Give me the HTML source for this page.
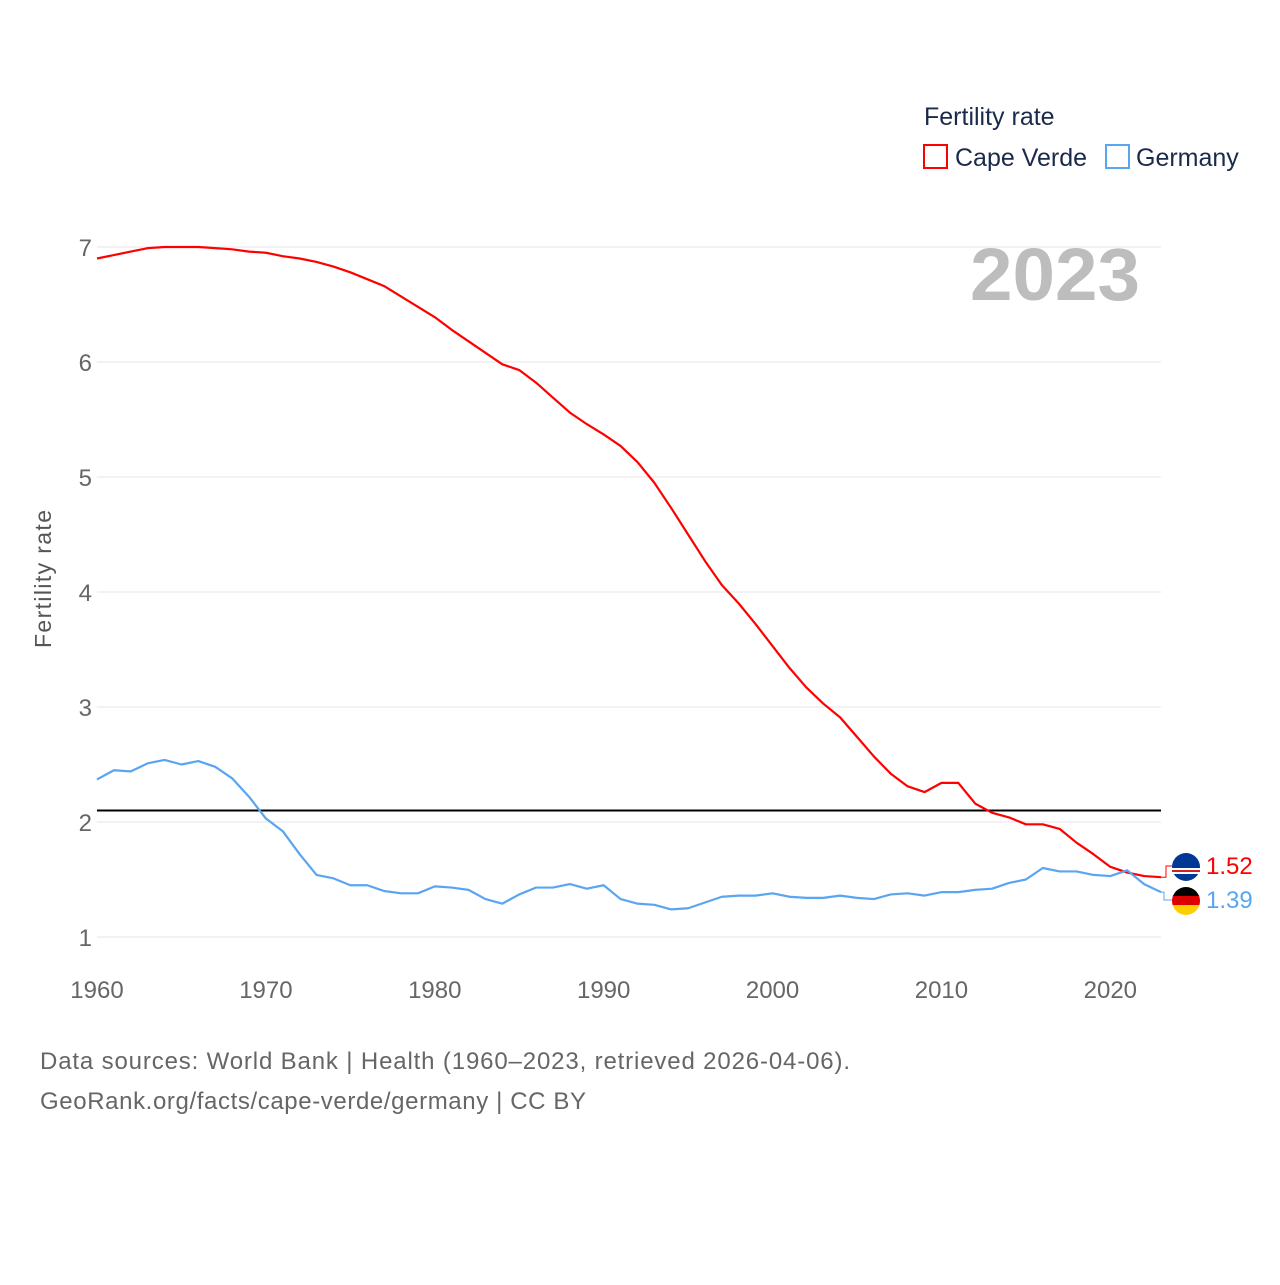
<!DOCTYPE html>
<html><head><meta charset="utf-8"><style>
body{margin:0;background:#fff;}
svg text{font-family:"Liberation Sans",sans-serif;}
</style></head><body>
<svg id="chart" width="1280" height="1280" xmlns="http://www.w3.org/2000/svg">
<text x="924" y="125" font-size="25" fill="#1a2a4a">Fertility rate</text>
<g><rect x="924" y="145" width="23" height="23" fill="none" stroke="#ff0000" stroke-width="2"/><text x="955" y="166" font-size="25" fill="#1a2a4a">Cape Verde</text></g>
<g><rect x="1106" y="145" width="23" height="23" fill="none" stroke="#5aa5f0" stroke-width="2"/><text x="1136" y="166" font-size="25" fill="#1a2a4a">Germany</text></g>
<text x="970" y="300" font-size="74" font-weight="bold" fill="#bdbdbd" textLength="170" lengthAdjust="spacingAndGlyphs">2023</text>
<text transform="translate(51,579) rotate(-90)" font-size="23" fill="#555" text-anchor="middle" textLength="138">Fertility rate</text>
<g id="grid"></g><g id="marks"></g>
<text x="40" y="1069" font-size="24" fill="#666" textLength="810">Data sources: World Bank | Health (1960–2023, retrieved 2026-04-06).</text>
<text x="40" y="1109" font-size="24" fill="#666" textLength="546">GeoRank.org/facts/cape-verde/germany | CC BY</text>
</svg>
<script>
const years=[];for(let y=1960;y<=2023;y++)years.push(y);
const capeVerde=[6.90,6.93,6.96,6.99,7.0,7.0,7.0,6.99,6.98,6.96,6.95,6.92,6.90,6.87,6.83,6.78,6.72,6.66,6.57,6.48,6.39,6.28,6.18,6.08,5.98,5.93,5.82,5.69,5.56,5.46,5.37,5.27,5.13,4.95,4.73,4.5,4.27,4.06,3.9,3.72,3.53,3.34,3.17,3.03,2.91,2.74,2.57,2.42,2.31,2.26,2.34,2.34,2.16,2.08,2.04,1.98,1.98,1.94,1.82,1.72,1.61,1.56,1.53,1.52];
const germany=[2.37,2.45,2.44,2.51,2.54,2.50,2.53,2.48,2.38,2.22,2.03,1.92,1.72,1.54,1.51,1.45,1.45,1.40,1.38,1.38,1.44,1.43,1.41,1.33,1.29,1.37,1.43,1.43,1.46,1.42,1.45,1.33,1.29,1.28,1.24,1.25,1.30,1.35,1.36,1.36,1.38,1.35,1.34,1.34,1.36,1.34,1.33,1.37,1.38,1.36,1.39,1.39,1.41,1.42,1.47,1.50,1.60,1.57,1.57,1.54,1.53,1.58,1.46,1.39];
const yTicks=[1,2,3,4,5,6,7];
const xTicks=[1960,1970,1980,1990,2000,2010,2020];
const replacement=2.1;
const NS="http://www.w3.org/2000/svg";
const X=y=>97+(y-1960)*(1161-97)/63;
const Y=v=>937-(v-1)*115;
function mk(t,a,p){const e=document.createElementNS(NS,t);for(const k in a)e.setAttribute(k,a[k]);p.appendChild(e);return e;}
const grid=document.getElementById('grid'),marks=document.getElementById('marks');
yTicks.forEach(v=>{
 const l=mk('line',{x1:97,x2:1161,y1:Y(v),y2:Y(v),stroke:'#e6e6e6','stroke-width':1},grid);
 
 
 const t=mk('text',{x:92,y:Y(v)+9,'font-size':24,fill:'#666','text-anchor':'end'},grid);t.textContent=v;
 
 
});
xTicks.forEach(v=>{
 const t=mk('text',{x:X(v),y:998,'font-size':24,fill:'#666','text-anchor':'middle'},grid);t.textContent=v;
 
 
});
const rl=mk('line',{x1:97,x2:1161,y1:Y(replacement),y2:Y(replacement),stroke:'#000','stroke-width':2},marks);


function series(d,c,n){
 const p=mk('path',{d:d.map((v,i)=>(i?'L':'M')+X(years[i])+','+Y(v)).join(''),fill:'none',stroke:c,'stroke-width':2.2,'stroke-linejoin':'round'},marks);
 
 
}
series(capeVerde,'#ff0000','cape-verde-line');
series(germany,'#5aa5f0','germany-line');
const cvEnd=capeVerde[capeVerde.length-1],deEnd=germany[germany.length-1];
mk('path',{d:`M1161,${Y(cvEnd)}L1166,${Y(cvEnd)}L1166,866L1172,866`,fill:'none',stroke:'#ff0000','stroke-width':1},marks);
mk('path',{d:`M1161,${Y(deEnd)}L1164,${Y(deEnd)}L1164,900L1172,900`,fill:'none',stroke:'#5aa5f0','stroke-width':1},marks);
const f1=mk('g',{},marks);
mk('circle',{cx:1186,cy:867,r:14,fill:'#003893'},f1);
mk('rect',{x:1172,y:868,width:28,height:6,fill:'#fff'},f1);
mk('rect',{x:1172,y:870,width:28,height:2,fill:'#cf2027'},f1);
const f2=mk('g',{},marks);
mk('clipPath',{id:'cp'},f2);mk('circle',{cx:1186,cy:901,r:14},document.getElementById('cp'));
const gg=mk('g',{'clip-path':'url(#cp)'},f2);
mk('rect',{x:1172,y:887,width:28,height:10,fill:'#000'},gg);
mk('rect',{x:1172,y:896,width:28,height:10,fill:'#dd0000'},gg);
mk('rect',{x:1172,y:905,width:28,height:10,fill:'#ffce00'},gg);
const t1=mk('text',{x:1206,y:874,'font-size':24,fill:'#ff0000'},marks);t1.textContent=cvEnd.toFixed(2);


const t2=mk('text',{x:1206,y:908,'font-size':24,fill:'#5aa5f0'},marks);t2.textContent=deEnd.toFixed(2);


</script>
</body></html>
